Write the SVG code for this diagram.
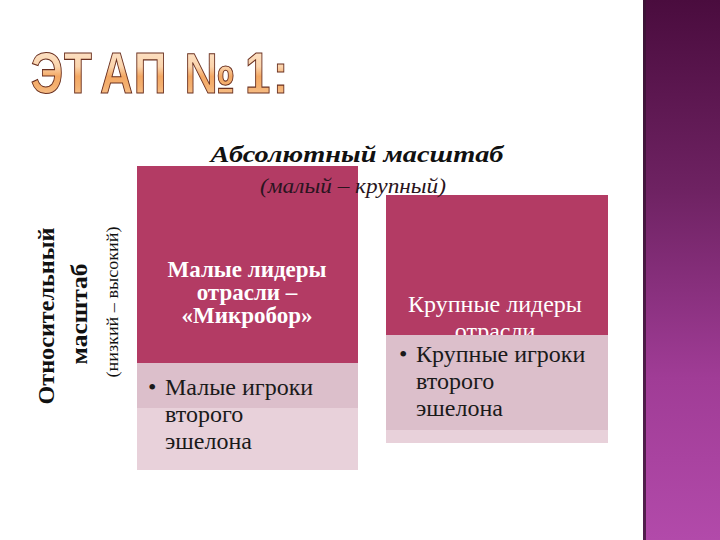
<svg xmlns="http://www.w3.org/2000/svg" width="720" height="540" viewBox="0 0 720 540">
<defs>
  <linearGradient id="side" x1="0" y1="0" x2="0" y2="1">
    <stop offset="0" stop-color="#4a0c3e"/>
    <stop offset="0.35" stop-color="#6e2262"/>
    <stop offset="0.7" stop-color="#a03c96"/>
    <stop offset="1" stop-color="#b24aaa"/>
  </linearGradient>
  <linearGradient id="titleFill" x1="0" y1="0" x2="0" y2="1">
    <stop offset="0" stop-color="#fde9d4"/>
    <stop offset="0.4" stop-color="#fbd4ac"/>
    <stop offset="0.55" stop-color="#f3a864"/>
    <stop offset="0.7" stop-color="#f4b070"/>
    <stop offset="1" stop-color="#fbd2a6"/>
  </linearGradient>
  <style>
    .dark{fill:#b33b64}
    .light{fill:#dcbfcb}
    .lighter{fill:#e8d1da}
    .serif{font-family:"Liberation Serif","Times New Roman",serif}
    .head{font-size:23px;font-weight:bold;fill:#ffffff;text-anchor:middle}
    .bul{font-size:24px;fill:#1a1a1a}
    .lbl{fill:#111111}
  </style>
</defs>
<rect width="720" height="540" fill="#ffffff"/>
<g id="sidebar">
  <rect x="643" y="0" width="77" height="540" fill="url(#side)"/>
  <rect x="643" y="0" width="3" height="540" fill="#3a1434" opacity="0.8"/>
</g>
<g id="title">
  <text transform="matrix(0.8 0 0 1 0 0)" y="93" font-family="Liberation Sans, Arial, sans-serif" font-weight="bold" font-size="57" fill="url(#titleFill)" stroke="#6a3020" stroke-width="1.1"><tspan x="38.4">Э</tspan><tspan x="80.1">Т</tspan><tspan x="125">А</tspan><tspan x="167.3">П</tspan><tspan x="230.5">№</tspan><tspan x="306.3">1</tspan><tspan x="341.1">:</tspan></text>
</g>
<g id="box-small-leaders">
  <rect class="dark" x="137" y="166" width="221" height="197"/>
  <rect class="light" x="137" y="363" width="221" height="45"/>
  <rect class="lighter" x="137" y="408" width="221" height="62"/>
  <text class="serif head"><tspan x="247" y="277">Малые лидеры</tspan><tspan x="247" y="300">отрасли –</tspan><tspan x="247" y="323">«Микробор»</tspan></text>
  <text class="serif bul"><tspan x="148" y="395">•</tspan><tspan x="165" y="395">Малые игроки</tspan><tspan x="165" y="422">второго</tspan><tspan x="165" y="449">эшелона</tspan></text>
</g>
<g id="box-large-leaders">
  <rect class="dark" x="386" y="195" width="222" height="140"/>
  <text class="serif" font-size="24" fill="#ffffff" text-anchor="middle"><tspan x="495" y="312">Крупные лидеры</tspan><tspan x="495" y="339">отрасли</tspan></text>
  <rect class="light" x="386" y="335" width="222" height="95"/>
  <rect class="lighter" x="386" y="430" width="222" height="13"/>
  <text class="serif bul"><tspan x="399" y="362">•</tspan><tspan x="416" y="362">Крупные игроки</tspan><tspan x="416" y="389">второго</tspan><tspan x="416" y="416">эшелона</tspan></text>
</g>
<g id="axis-labels">
  <text class="serif lbl" x="357" y="162" font-size="24" font-weight="bold" font-style="italic" text-anchor="middle" textLength="293" lengthAdjust="spacingAndGlyphs">Абсолютный масштаб</text>
  <text class="serif" x="353" y="193" font-size="20" font-style="italic" fill="#2a1420" text-anchor="middle" textLength="186" lengthAdjust="spacingAndGlyphs">(малый – крупный)</text>
  <text class="serif lbl" transform="translate(54,316) rotate(-90)" x="0" y="0" font-size="24" font-weight="bold" text-anchor="middle" textLength="177" lengthAdjust="spacingAndGlyphs">Относительный</text>
  <text class="serif lbl" transform="translate(87,314) rotate(-90)" x="0" y="0" font-size="24" font-weight="bold" text-anchor="middle" textLength="101" lengthAdjust="spacingAndGlyphs">масштаб</text>
  <text class="serif lbl" transform="translate(118,302) rotate(-90)" x="0" y="0" font-size="16" text-anchor="middle" textLength="151" lengthAdjust="spacingAndGlyphs">(низкий – высокий)</text>
</g>
</svg>
